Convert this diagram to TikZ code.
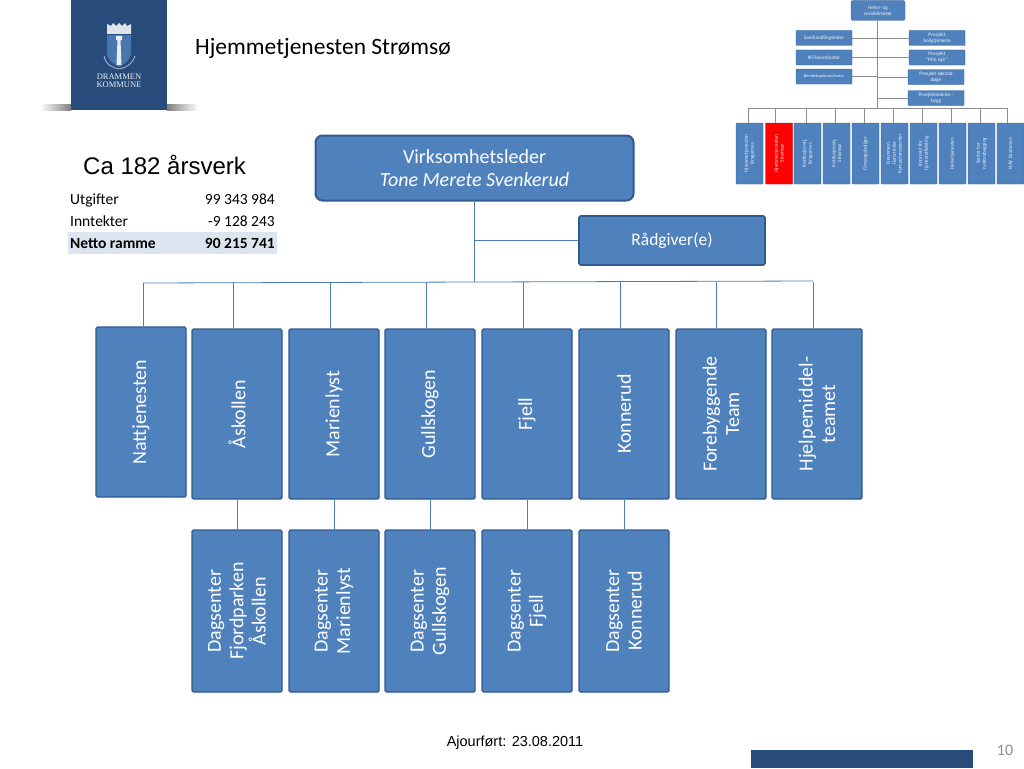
\documentclass[tikz,border=0pt]{standalone}
\usepackage{fontspec}
\setmainfont{Carlito}
\newfontfamily\arialfont{Liberation Sans}
\newfontfamily\logofont{Liberation Serif}
\usepackage{xcolor}
\usetikzlibrary{calc, positioning}

\definecolor{boxblue}{HTML}{4F81BD}
\definecolor{boxedge}{HTML}{2F5B8E}
\definecolor{linjeblue}{HTML}{4A7EBB}
\definecolor{logoblue}{HTML}{274B7A}
\definecolor{nettoband}{HTML}{DCE4F0}
\newcommand{\fs}[1]{\fontsize{#1pt}{\dimexpr #1pt*112/100\relax}\selectfont}

\tikzset{
    basebox/.style={draw=boxedge, fill=boxblue, text=white, align=center, inner sep=0pt, line width=1.4pt, rounded corners=1.5pt},
    enhet/.style={basebox, rotate=90, minimum width=170pt, minimum height=90pt, font=\fs{20}},
    dagsenter/.style={basebox, rotate=90, minimum width=162pt, minimum height=90pt, font=\fs{20}},
    linje/.style={draw=linjeblue, line width=0.8pt},
    miniboks/.style={draw=boxedge, fill=boxblue, text=white!90!boxblue, align=center, inner sep=0pt, line width=0.3pt, rounded corners=0.5pt, font=\fs{5.2}},
    minienhet/.style={miniboks, rotate=90, minimum width=61pt, minimum height=27pt},
    minilinje/.style={draw=black!45, line width=0.6pt},
    tabell/.style={inner sep=0pt, font=\fs{15.5}}
}

\begin{document}
\begin{tikzpicture}[x=1pt, y=-1pt]
    \useasboundingbox (0,0) rectangle (1024,768);

    % 1. Logo
    \fill[left color=white, right color=black!50] (40,104) rectangle (71,110);
    \fill[left color=black!50, right color=white] (167,104) rectangle (198,110);
    \fill[logoblue] (71,0) rectangle (167,110);
    \fill[white!85!logoblue] (107,24) -- (107,34) -- (131,34) -- (131,24) -- (127,26) -- (125,23) -- (122,26) -- (119,23) -- (116,26) -- (113,23) -- (111,26) -- cycle;
    \fill[boxblue!80!logoblue] (107,35) -- (131,35) -- (131,52) .. controls (131,61) and (124,64) .. (119,67) .. controls (114,64) and (107,61) .. (107,52) -- cycle;
    \fill[white!90!logoblue] (116,36) rectangle (122,40) (117.5,40) -- (120.5,40) -- (121.5,65) -- (116.5,65) -- cycle;
    \draw[white!70!logoblue, line width=0.7pt] (104,56) .. controls (106,65) and (113,68) .. (119,69) .. controls (125,68) and (132,65) .. (135,56);
    \node[text=white!90!logoblue, inner sep=0pt, align=center, font=\logofont\fs{8.5}] (logotekst) at (119,81) {DRAMMEN\\[-1.5pt]KOMMUNE};

    % 2. Overskrift og tabell
    \node[anchor=west, inner sep=0pt, font=\fs{23.5}] (tittel) at (195,48) {Hjemmetjenesten Strømsø};
    \node[anchor=west, inner sep=0pt, font=\arialfont\fs{24}] (aarsverk) at (83,165) {Ca 182 årsverk};
    \fill[nettoband] (68,232) rectangle (277,254);
    \node[tabell, anchor=base west] (utgifter) at (70,204) {Utgifter};
    \node[tabell, anchor=base east] (utgifterbelop) at (275,204) {99 343 984};
    \node[tabell, anchor=base west] (inntekter) at (70,226) {Inntekter};
    \node[tabell, anchor=base east] (inntekterbelop) at (275,226) {-9 128 243};
    \node[tabell, anchor=base west] (netto) at (70,248) {\textbf{Netto ramme}};
    \node[tabell, anchor=base east] (nettobelop) at (275,248) {\textbf{90 215 741}};

    % 3. Ledelse
    \node[basebox, rounded corners=7pt, line width=2pt, minimum width=318pt, minimum height=65pt, font=\fs{20}] (leder) at (474.5,168) {Virksomhetsleder\\\textit{Tone Merete Svenkerud}};
    \node[basebox, line width=1.6pt, minimum width=186pt, minimum height=49pt, font=\fs{17.5}] (raadgiver) at (672,240.5) {Rådgiver(e)};

    % 4. Enheter
    \node[enhet] (natt) at (141,412) {Nattjenesten};
    \node[enhet] (askollen) at (237,414) {Åskollen};
    \node[enhet] (marienlyst) at (334,414) {Marienlyst};
    \node[enhet] (gullskogen) at (430,414) {Gullskogen};
    \node[enhet] (fjell) at (527,414) {Fjell};
    \node[enhet] (konnerud) at (624,414) {Konnerud};
    \node[enhet] (forebygg) at (721,414) {Forebyggende\\Team};
    \node[enhet] (hjelpemiddel) at (817,414) {Hjelpemiddel-\\teamet};

    % 5. Dagsentre
    \node[dagsenter] (dagaskollen) at (237,611) {Dagsenter\\Fjordparken\\Åskollen};
    \node[dagsenter] (dagmarienlyst) at (334,611) {Dagsenter\\Marienlyst};
    \node[dagsenter] (daggullskogen) at (430,611) {Dagsenter\\Gullskogen};
    \node[dagsenter] (dagfjell) at (527,611) {Dagsenter\\Fjell};
    \node[dagsenter] (dagkonnerud) at (624,611) {Dagsenter\\Konnerud};

    % 6. Linjer
    \coordinate (busvenstre) at (143,283);
    \coordinate (bushoyre) at (813,281);
    \coordinate (buslede) at (474,282);
    \draw[linje] (busvenstre) -- (bushoyre);
    \draw[linje] (leder.south -| buslede) -- (buslede);
    \draw[linje] (raadgiver.west) -- (raadgiver.west -| buslede);
    \draw[linje] (busvenstre) -- (busvenstre |- natt.east);
    \foreach \xpos/\enhetnavn in {233/askollen, 330/marienlyst, 426/gullskogen, 523/fjell, 620/konnerud, 716/forebygg, 813/hjelpemiddel}
        \draw[linje] (\xpos,282) -- (\xpos,282 |- \enhetnavn.east);
    \foreach \fra/\til in {askollen/dagaskollen, marienlyst/dagmarienlyst, gullskogen/daggullskogen, fjell/dagfjell, konnerud/dagkonnerud}
        \draw[linje] (\fra.west) -- (\til.east);

    % 7. Lite organisasjonskart
    \node[miniboks, rounded corners=2pt, minimum width=54pt, minimum height=20pt] (direktor) at (878,10.5) {Helse- og\\sosialdirektør};
    \node[miniboks, minimum width=56pt, minimum height=15pt] (samhandling) at (824,38) {Samhandlingsleder};
    \node[miniboks, minimum width=56pt, minimum height=15pt] (ikt) at (824,57.5) {IKT-koordinator};
    \node[miniboks, minimum width=56pt, minimum height=15pt, font=\fs{4.3}] (beredskap) at (824,76.5) {Beredskapskoordinator};
    \node[miniboks, minimum width=56pt, minimum height=15pt] (prosjektbolig) at (937,38) {Prosjekt\\boligtjeneste};
    \node[miniboks, minimum width=56pt, minimum height=15pt] (prosjektmin) at (937,57.5) {Prosjekt\\“Min sqlr”};
    \node[miniboks, minimum width=56pt, minimum height=15pt] (prosjektsoknad) at (936,77) {Prosjekt søknad\\døgn};
    \node[miniboks, minimum width=56pt, minimum height=15pt] (prosjektbygg) at (936,98) {Prosjektledelse -\\bygg};

    \node[minienhet] (hjembrag) at (749.5,153.5) {Hjemmetjenesten\\Bragernes};
    \node[minienhet, fill=red, draw=red!70!black] (hjemstrom) at (779,153.5) {Hjemmetjenesten\\Strømsø};
    \node[minienhet] (instbrag) at (807.5,153.5) {Institusjonstj.\\Bragernes};
    \node[minienhet] (inststrom) at (836.5,153.5) {Institusjonstj.\\Strømsø};
    \node[minienhet] (omsorg) at (865.5,153.5) {Omsorgsboliger};
    \node[minienhet] (geriatri) at (894.5,153.5) {Drammen\\Geriatriske\\Kompetansesenter};
    \node[minienhet] (kontor) at (923.5,153.5) {Kontoret for\\tjenestetildeling};
    \node[minienhet] (helse) at (952.5,153.5) {Helsetjenesten};
    \node[minienhet] (senter) at (981.5,153.5) {Senter for\\rusforebygging};
    \node[minienhet] (nav) at (1010.5,153.5) {NAV Drammen};

    \coordinate (minibus) at (877,108);
    \draw[minilinje] (direktor.south -| minibus) -- (minibus);
    \draw[minilinje] (748,108) -- (1007,108);
    \foreach \navn in {samhandling, ikt, beredskap}
        \draw[minilinje] (\navn.east) -- (\navn.east -| minibus);
    \foreach \navn in {prosjektbolig, prosjektmin, prosjektsoknad, prosjektbygg}
        \draw[minilinje] (\navn.west) -- (\navn.west -| minibus);
    \foreach \xpos/\navn in {748/hjembrag, 775/hjemstrom, 806/instbrag, 835/inststrom, 864/omsorg, 893/geriatri, 922/kontor, 951/helse, 980/senter, 1007/nav}
        \draw[minilinje] (\xpos,108) -- (\xpos,108 |- \navn.east);

    % 8. Bunntekst
    \node[inner sep=0pt, font=\arialfont\fs{14.5}] (ajourfort) at (515,743) {Ajourført: 23.08.2011};
    \fill[logoblue] (751,750) rectangle (973,768);
    \node[inner sep=0pt, text=black!45, font=\fs{16}] (sidetall) at (1005,750) {10};
\end{tikzpicture}
\end{document}
